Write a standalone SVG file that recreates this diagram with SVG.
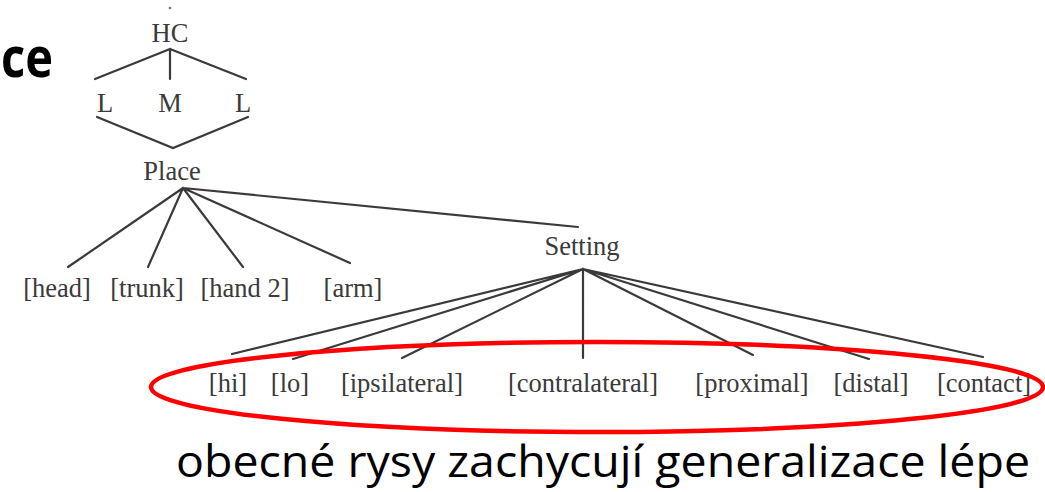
<svg xmlns="http://www.w3.org/2000/svg" width="1045" height="492" viewBox="0 0 1045 492">
<style>
.lbl{font-family:"Liberation Serif",serif;font-size:26.5px;fill:#3a3a3a;text-anchor:middle}
.edge{stroke:#3a3a3a;stroke-width:2.2;fill:none;stroke-linecap:round}
.title{font-family:"Open Sans","Noto Sans",sans-serif;font-weight:bold;font-size:56px;fill:#000}
.cap{font-family:"Open Sans","Noto Sans",sans-serif;font-size:43px;fill:#000}
</style>
<rect width="1045" height="492" fill="#fff"/>
<text class="title" x="1" y="77" textLength="52" lengthAdjust="spacingAndGlyphs">ce</text>
<circle cx="170" cy="8" r="1.3" fill="#777"/>
<g id="connectors">
<path class="edge" d="M170 49 L95 79 M170 49 L170 79 M170 49 L246 79"/>
<path class="edge" d="M97 117 L173 148 L248 117"/>
<path class="edge" d="M183 188 L68 267 M183 188 L148 267 M183 188 L243 267 M183 188 L350 263 M183 188 L578 227"/>
<path class="edge" d="M583 269 L232 354 M583 269 L293 359 M583 269 L402 358 M583 269 L583 358 M583 269 L753 355 M583 269 L869 359 M583 269 L983 357"/>
</g>
<g id="HC"><text class="lbl" x="170" y="42">HC</text></g>
<g id="L1"><text class="lbl" x="105" y="112">L</text></g>
<g id="M"><text class="lbl" x="170" y="112">M</text></g>
<g id="L2"><text class="lbl" x="243" y="112">L</text></g>
<g id="Place"><text class="lbl" x="172" y="180">Place</text></g>
<g id="head"><text class="lbl" x="57" y="297">[head]</text></g>
<g id="trunk"><text class="lbl" x="147" y="297">[trunk]</text></g>
<g id="hand2"><text class="lbl" x="245" y="297">[hand 2]</text></g>
<g id="arm"><text class="lbl" x="353" y="297">[arm]</text></g>
<g id="Setting"><text class="lbl" x="582" y="255">Setting</text></g>
<g id="hi"><text class="lbl" x="228" y="392">[hi]</text></g>
<g id="lo"><text class="lbl" x="290" y="392">[lo]</text></g>
<g id="ipsilateral"><text class="lbl" x="402" y="392">[ipsilateral]</text></g>
<g id="contralateral"><text class="lbl" x="583" y="392">[contralateral]</text></g>
<g id="proximal"><text class="lbl" x="752" y="392">[proximal]</text></g>
<g id="distal"><text class="lbl" x="871" y="392">[distal]</text></g>
<g id="contact"><text class="lbl" x="984" y="392">[contact]</text></g>
<ellipse cx="597" cy="387" rx="446" ry="45" fill="none" stroke="#f00" stroke-width="4.5"/>
<text class="cap" x="176" y="477" textLength="854" lengthAdjust="spacingAndGlyphs">obecné rysy zachycují generalizace lépe</text>
</svg>
